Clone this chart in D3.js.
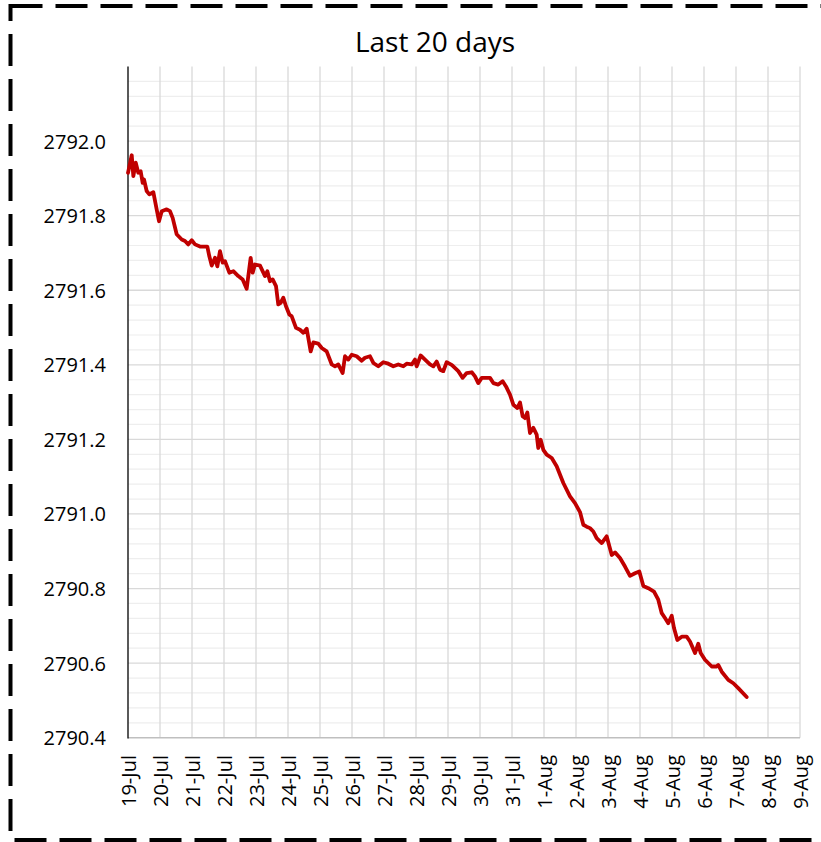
<!DOCTYPE html>
<html>
<head>
<meta charset="utf-8">
<script src="https://cdn.jsdelivr.net/npm/d3@7.9.0/dist/d3.min.js"></script>
<style>
  body { margin: 0; background: #fff; }
  svg text { font-family: "Open Sans", sans-serif; fill: #000; }
</style>
</head>
<body>
<svg id="chart" width="821" height="842"></svg>
<script>
// hours after 19-Jul 00:00, and the level read at that time
const hours = [
  0, 2.8, 4, 5.8, 7.7, 9.5, 11, 12, 14, 16, 19, 21.5, 23.25, 25.3, 29, 31.5, 33.5, 36.5, 40.3, 42.75,
  45.2, 47.8, 50.25, 54, 59.5, 61, 62.8, 65.25, 67, 69, 71, 72.75, 76, 79, 82.7, 86, 89, 92, 93.5, 95.25,
  99, 102.75, 104.5, 106.5, 108.5, 111, 112.7, 114.5, 116.5, 118.5, 121, 122.8, 126, 129, 131.5, 134, 137, 139, 142.7, 145.3,
  149, 152.8, 155.25, 157.7, 161, 162.75, 165.2, 167.8, 171.5, 175.3, 177.75, 181.5, 184, 187.7, 191.5, 195.2, 199, 202.7, 206.5, 209,
  212.8, 215.25, 216.5, 219.5, 222.75, 226.5, 229, 231.5, 234, 236.5, 239, 243, 247.7, 251, 254, 257.8, 260.25, 262.7, 265.3, 269,
  271.5, 274, 277.7, 281, 283.5, 286.5, 289, 292, 294, 296, 297.75, 299.5, 301.5, 304, 306.5, 307.7, 309.5, 311.5, 314, 317.8,
  321.5, 326.5, 331.5, 335.25, 339, 341.5, 344, 346.5, 349, 351.5, 355.3, 359, 362.8, 365.25, 369, 372.75, 376.5, 380.25, 383.5, 386.5,
  390.2, 394.5, 397.7, 400.3, 402.75, 405.2, 407.8, 409.5, 412, 415.3, 419, 421.5, 425.25, 427.7, 429.5, 432.75, 437.8, 441.5, 442.7, 445.3,
  450.2, 454, 457.7, 464
];
const levels = [
  2791.915, 2791.962, 2791.906, 2791.942, 2791.915, 2791.919, 2791.888, 2791.897, 2791.866, 2791.857, 2791.863, 2791.817, 2791.785, 2791.812, 2791.817, 2791.812, 2791.794, 2791.750, 2791.736, 2791.732,
  2791.723, 2791.734, 2791.723, 2791.717, 2791.717, 2791.691, 2791.666, 2791.687, 2791.664, 2791.705, 2791.674, 2791.678, 2791.647, 2791.651, 2791.638, 2791.629, 2791.604, 2791.687, 2791.647, 2791.669,
  2791.666, 2791.638, 2791.651, 2791.624, 2791.629, 2791.611, 2791.562, 2791.566, 2791.580, 2791.557, 2791.535, 2791.530, 2791.499, 2791.494, 2791.486, 2791.497, 2791.436, 2791.460, 2791.457, 2791.445,
  2791.436, 2791.401, 2791.396, 2791.401, 2791.378, 2791.423, 2791.414, 2791.427, 2791.423, 2791.411, 2791.419, 2791.423, 2791.405, 2791.396, 2791.407, 2791.403, 2791.396, 2791.401, 2791.396, 2791.403,
  2791.401, 2791.414, 2791.396, 2791.425, 2791.414, 2791.401, 2791.396, 2791.409, 2791.387, 2791.383, 2791.407, 2791.399, 2791.383, 2791.365, 2791.378, 2791.380, 2791.369, 2791.351, 2791.365, 2791.365,
  2791.365, 2791.351, 2791.347, 2791.356, 2791.342, 2791.320, 2791.293, 2791.284, 2791.299, 2791.262, 2791.257, 2791.272, 2791.217, 2791.231, 2791.213, 2791.177, 2791.199, 2791.172, 2791.159, 2791.150,
  2791.128, 2791.083, 2791.047, 2791.029, 2791.005, 2790.971, 2790.966, 2790.962, 2790.953, 2790.935, 2790.922, 2790.940, 2790.890, 2790.897, 2790.882, 2790.859, 2790.834, 2790.841, 2790.846, 2790.807,
  2790.801, 2790.792, 2790.770, 2790.734, 2790.721, 2790.707, 2790.727, 2790.694, 2790.662, 2790.671, 2790.671, 2790.658, 2790.627, 2790.652, 2790.627, 2790.609, 2790.591, 2790.591, 2790.595, 2790.577,
  2790.555, 2790.546, 2790.533, 2790.509
];

const yTicks = [2790.4, 2790.6, 2790.8, 2791.0, 2791.2, 2791.4, 2791.6, 2791.8, 2792.0];
const yMin = 2790.4, yMax = 2792.2, yMinor = 0.04;
const startDate = new Date(2023, 6, 19);
const endDate = new Date(2023, 7, 9);
const title = 'Last 20 days';

const svg = d3.select('#chart');
const margin = { left: 128, right: 21, top: 66.5, bottom: 104.3 };
const W = 821, H = 842;

const x = d3.scaleTime().domain([startDate, endDate]).range([margin.left, W - margin.right]);
const y = d3.scaleLinear().domain([yMin, yMax]).range([H - margin.bottom, margin.top]);

const data = hours.map((h, i) => ({ t: new Date(startDate.getTime() + h * 3600e3), v: levels[i] }));

// dashed frame
svg.append('rect')
  .attr('x', 10.5).attr('y', 6)
  .attr('width', 816).attr('height', 834)
  .attr('fill', 'none')
  .attr('stroke', '#000')
  .attr('stroke-width', 4)
  .attr('stroke-dasharray', '32,13');

// minor horizontal grid
const minorTicks = d3.range(0, Math.round((yMax - yMin) / yMinor)).map((k) => yMin + k * yMinor)
  .filter((v) => Math.abs(Math.round((v - yMin) / 0.2) * 0.2 + yMin - v) > 1e-6);
svg.append('g').selectAll('line').data(minorTicks).join('line')
  .attr('x1', margin.left).attr('x2', W - margin.right)
  .attr('y1', (d) => y(d)).attr('y2', (d) => y(d))
  .attr('stroke', '#eeeeee').attr('stroke-width', 1.2);

// major horizontal grid
svg.append('g').selectAll('line').data(yTicks.slice(1)).join('line')
  .attr('x1', margin.left).attr('x2', W - margin.right)
  .attr('y1', (d) => y(d)).attr('y2', (d) => y(d))
  .attr('stroke', '#d9d9d9').attr('stroke-width', 1.3);

// vertical grid, one per day
const days = d3.timeDay.range(startDate, d3.timeDay.offset(endDate, 1));
svg.append('g').selectAll('line').data(days.slice(1)).join('line')
  .attr('x1', (d) => x(d)).attr('x2', (d) => x(d))
  .attr('y1', margin.top).attr('y2', H - margin.bottom)
  .attr('stroke', '#d9d9d9').attr('stroke-width', 1.3);

// bottom axis line
svg.append('line')
  .attr('x1', margin.left).attr('x2', W - margin.right)
  .attr('y1', y(yMin)).attr('y2', y(yMin))
  .attr('stroke', '#bfbfbf').attr('stroke-width', 1.5);

// left axis line
svg.append('line')
  .attr('x1', margin.left).attr('x2', margin.left)
  .attr('y1', margin.top).attr('y2', y(yMin) + 0.7)
  .attr('stroke', '#000').attr('stroke-width', 1.3);

// y labels
svg.append('g').selectAll('text').data(yTicks).join('text')
  .attr('x', 106).attr('y', (d) => y(d))
  .attr('text-anchor', 'end')
  .attr('dominant-baseline', 'central')
  .style('font-size', '20px')
  .text((d) => d3.format('.1f')(d));

// x labels, rotated
const fmt = d3.timeFormat('%-d-%b');
svg.append('g').selectAll('text').data(days).join('text')
  .attr('transform', (d) => `translate(${x(d)},755) rotate(-90)`)
  .attr('text-anchor', 'end')
  .attr('dominant-baseline', 'central')
  .style('font-size', '20px')
  .text((d) => fmt(d));

// series
svg.append('path')
  .datum(data)
  .attr('fill', 'none')
  .attr('stroke', '#c00000')
  .attr('stroke-width', 3.8)
  .attr('stroke-linejoin', 'round')
  .attr('stroke-linecap', 'round')
  .attr('d', d3.line().x((d) => x(d.t)).y((d) => y(d.v)));

// title
svg.append('text')
  .attr('x', 435).attr('y', 52)
  .attr('text-anchor', 'middle')
  .style('font-size', '28px')
  .text(title);
</script>
</body>
</html>
